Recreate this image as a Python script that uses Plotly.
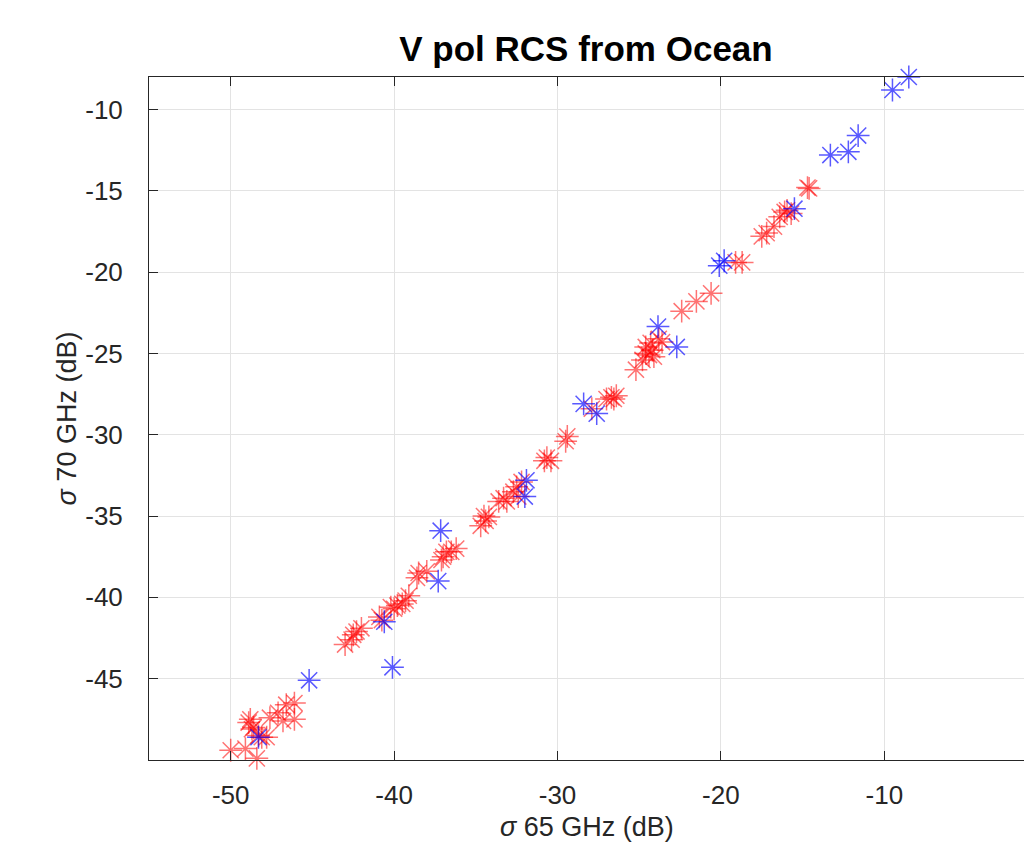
import plotly.graph_objects as go

# Red series (sigma 65 GHz dB, sigma 70 GHz dB)
red_x = [-50.0, -48.9, -48.6, -48.3, -48.1, -47.8, -48.4, -49.1, -47.6, -47.1, -46.6, -46.1, -46.1, -46.8, -48.8, -48.7,
         -42.6, -42.3, -43.0, -42.0, -42.5,
         -40.9, -40.75, -40.2, -39.8, -39.3, -39.1, -39.5, -40.0, -38.5, -38.6, -38.0, -37.0, -36.8, -36.5, -37.1, -36.2,
         -34.4, -34.7, -34.2, -34.5, -33.6, -33.3, -33.1, -32.7, -32.5, -32.4, -32.2, -30.65, -30.4, -30.8, -29.5, -29.4,
         -26.7, -26.55, -27.0, -26.4, -27.9,
         -25.2, -24.8, -24.6, -24.4, -24.2, -24.3, -23.8, -23.6, -24.6, -24.1, -22.4, -21.5, -20.6,
         -19.1, -18.7, -17.5, -17.2, -16.75, -16.4, -16.1, -15.95, -15.7, -14.6, -14.7]
red_y = [-49.4, -47.7, -48.0, -48.5, -48.6, -48.6, -49.9, -49.3, -47.4, -47.1, -46.6, -46.5, -47.5, -47.6, -47.5, -48.1,
         -42.6, -42.1, -42.9, -41.9, -42.3,
         -41.2, -41.4, -40.6, -40.5, -40.2, -39.9, -40.4, -40.7, -38.5, -38.8, -38.4, -37.5, -37.2, -37.2, -37.7, -37.0,
         -35.3, -35.6, -35.05, -35.0, -34.1, -33.9, -34.1, -33.5, -33.2, -33.8, -32.9, -31.4, -31.6, -31.6, -30.4, -30.1,
         -27.7, -27.8, -27.8, -27.6, -28.4,
         -26.0, -25.4, -25.0, -25.1, -24.8, -24.35, -24.1, -24.3, -24.6, -25.2, -22.4, -21.8, -21.3,
         -19.4, -19.4, -17.8, -17.6, -17.2, -16.6, -16.3, -16.2, -16.4, -14.85, -14.8]

# Blue series
blue_x = [-8.5, -9.5, -11.6, -12.2, -13.3, -15.5, -20.1, -19.8, -23.85, -22.7, -28.4, -27.6, -31.9, -32.0,
          -37.15, -37.3, -40.6, -40.1, -45.2, -48.3]
blue_y = [-8.0, -8.8, -11.6, -12.6, -12.8, -16.1, -19.6, -19.3, -23.35, -24.6, -28.1, -28.7, -32.8, -33.8,
          -35.9, -39.0, -41.5, -44.3, -45.1, -48.6]

x_ticks = [-50, -40, -30, -20, -10, 0]
y_ticks = [-45, -40, -35, -30, -25, -20, -15, -10]
x_range = [-55, -1.45]
y_range = [-50, -8]

FONT = "Liberation Sans, Arial, sans-serif"
AX = "#262626"
GRID = "#e3e3e3"

fig = go.Figure()
fig.add_trace(go.Scatter(
    x=red_x, y=red_y, mode="markers", name="red",
    marker=dict(symbol="asterisk-open", size=19, color="rgba(255,0,0,0.55)",
                line=dict(color="rgba(255,0,0,0.55)", width=1.5)),
    cliponaxis=False, showlegend=False))
fig.add_trace(go.Scatter(
    x=blue_x, y=blue_y, mode="markers", name="blue",
    marker=dict(symbol="asterisk-open", size=19, color="rgba(0,0,255,0.65)",
                line=dict(color="rgba(0,0,255,0.65)", width=1.5)),
    cliponaxis=False, showlegend=False))

fig.update_layout(
    width=1024, height=844,
    margin=dict(l=149, r=0, t=77, b=84),
    paper_bgcolor="white", plot_bgcolor="white",
    font=dict(family=FONT, size=26, color=AX),
    title=dict(text="<b>V pol RCS from Ocean</b>", x=586 / 1024, xanchor="center",
               y=1 - 49 / 844, yanchor="middle", yref="container",
               font=dict(family=FONT, size=35, color="black")),
    annotations=[dict(text="<i>σ</i> 65 GHz (dB)", xref="paper", yref="paper",
                      x=0.5, y=-(810 - 760) / 683, xanchor="center", yanchor="top",
                      showarrow=False, font=dict(family=FONT, size=27, color=AX))],
)
fig.update_xaxes(
    range=x_range, tickvals=x_ticks, ticktext=[str(v) for v in x_ticks],
    showgrid=True, gridcolor=GRID, gridwidth=1, zeroline=False,
    showline=True, linecolor=AX, linewidth=1, mirror="ticks",
    ticks="inside", ticklen=9, tickcolor=AX, tickwidth=1, ticklabelstandoff=12,
    tickfont=dict(size=26, color=AX),
    automargin=False,
)
fig.update_yaxes(
    range=y_range, tickvals=y_ticks, ticktext=[str(v) for v in y_ticks],
    showgrid=True, gridcolor=GRID, gridwidth=1, zeroline=False,
    showline=True, linecolor=AX, linewidth=1, mirror=False,
    ticks="inside", ticklen=9, tickcolor=AX, tickwidth=1, ticklabelstandoff=20,
    tickfont=dict(size=26, color=AX),
    title=dict(text="<i>σ</i> 70 GHz (dB)", standoff=0, font=dict(size=27, color=AX)),
    automargin=False,
)

fig.write_html(
    "out.html",
    config={"displayModeBar": False},
    post_script="document.body.style.margin='0';document.body.style.overflow='hidden';",
)
